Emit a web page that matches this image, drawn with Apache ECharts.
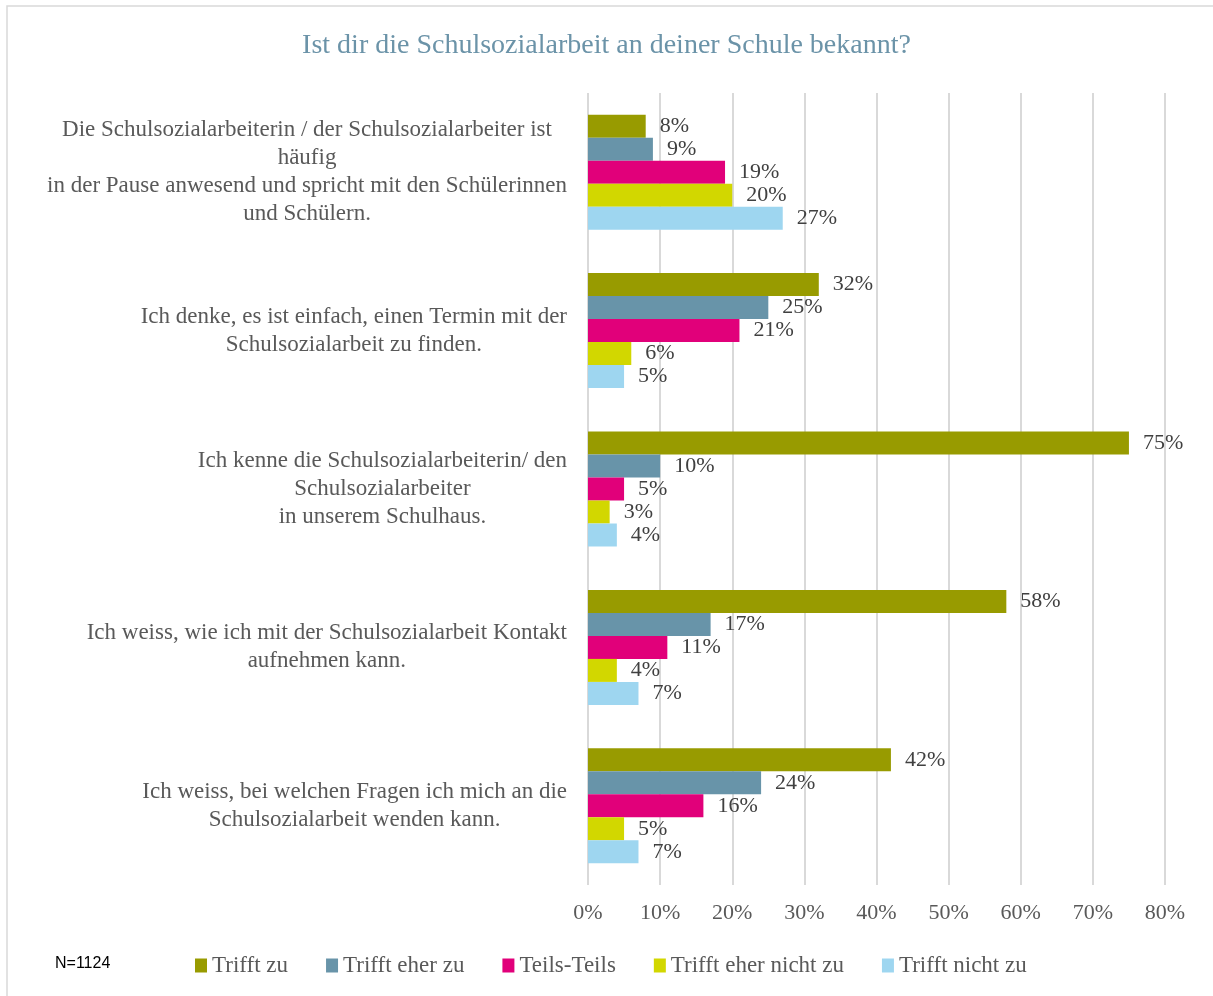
<!DOCTYPE html>
<html>
<head>
<meta charset="utf-8">
<script src="https://cdn.jsdelivr.net/npm/echarts@6/dist/echarts.min.js"></script>
<style>
  html, body { margin: 0; padding: 0; background: #fff; }
  #chart { width: 1213px; height: 996px; }
</style>
</head>
<body>
<div id="chart"></div>
<script>
const categories = [
    "Die Schulsozialarbeiterin / der Schulsozialarbeiter ist\nhäufig\nin der Pause anwesend und spricht mit den Schülerinnen\nund Schülern.",
    "Ich denke, es ist einfach, einen Termin mit der\nSchulsozialarbeit zu finden.",
    "Ich kenne die Schulsozialarbeiterin/ den\nSchulsozialarbeiter\nin unserem Schulhaus.",
    "Ich weiss, wie ich mit der Schulsozialarbeit Kontakt\naufnehmen kann.",
    "Ich weiss, bei welchen Fragen ich mich an die\nSchulsozialarbeit wenden kann."
];
const seriesNames = ["Trifft zu", "Trifft eher zu", "Teils-Teils", "Trifft eher nicht zu", "Trifft nicht zu"];
const triffZu = [8, 32, 75, 58, 42];
const triffEherZu = [9, 25, 10, 17, 24];
const teilsTeils = [19, 21, 5, 11, 16];
const eherNichtZu = [20, 6, 3, 4, 5];
const nichtZu = [27, 5, 4, 7, 7];
const colors = ["#989b00", "#6894a9", "#e1007a", "#d2d700", "#9ed6f0"];

const serif = "'Liberation Serif', 'DejaVu Serif', serif";
const chart = echarts.init(document.getElementById("chart"));

const values = [triffZu, triffEherZu, teilsTeils, eherNichtZu, nichtZu];

const option = {
    backgroundColor: "#fff",
    animation: false,
    title: {
        text: "Ist dir die Schulsozialarbeit an deiner Schule bekannt?",
        left: "center",
        top: 27,
        textStyle: {
            color: "#6b93a8",
            fontSize: 28,
            fontFamily: serif,
            fontWeight: "normal"
        }
    },
    graphic: [
        {
            type: "rect",
            shape: { x: 7, y: 6, width: 1212, height: 996 },
            style: { fill: "none", stroke: "#d9d9d9", lineWidth: 1.5 }
        },
        {
            type: "text",
            left: 55,
            top: 956,
            style: {
                text: "N=1124",
                fill: "#000",
                font: "16px 'Liberation Sans', sans-serif"
            }
        }
    ],
    legend: {
        left: 190,
        top: 949,
        icon: "rect",
        itemWidth: 12,
        itemHeight: 14,
        itemGap: 38,
        textStyle: {
            color: "#595959",
            fontSize: 23,
            fontFamily: serif
        },
        data: seriesNames
    },
    grid: {
        left: 588,
        right: 48,
        top: 93,
        bottom: 111,
        containLabel: false
    },
    xAxis: {
        type: "value",
        min: 0,
        max: 80,
        interval: 10,
        axisLine: { show: false },
        axisTick: { show: false },
        axisLabel: {
            formatter: "{value}%",
            color: "#595959",
            fontSize: 22,
            fontFamily: serif,
            margin: 17
        },
        splitLine: { lineStyle: { color: "#d9d9d9", width: 2 } }
    },
    yAxis: {
        type: "category",
        inverse: true,
        data: categories,
        axisLine: { show: false },
        axisTick: { show: false },
        axisLabel: {
            margin: 21,
            formatter: v => v.split("\n").map(s => "{c|" + s + "}").join("\n"),
            rich: {
                c: {
                    align: "center",
                    color: "#595959",
                    fontSize: 23,
                    fontFamily: serif,
                    lineHeight: 28
                }
            }
        }
    },
    series: seriesNames.map((name, i) => ({
        name: name,
        type: "bar",
        data: values[i],
        barWidth: 23,
        barGap: "0%",
        itemStyle: { color: colors[i] },
        label: {
            show: true,
            position: "right",
            distance: 14,
            formatter: "{c}%",
            color: "#404040",
            fontSize: 22,
            fontFamily: serif
        }
    }))
};

chart.setOption(option);
</script>
</body>
</html>
